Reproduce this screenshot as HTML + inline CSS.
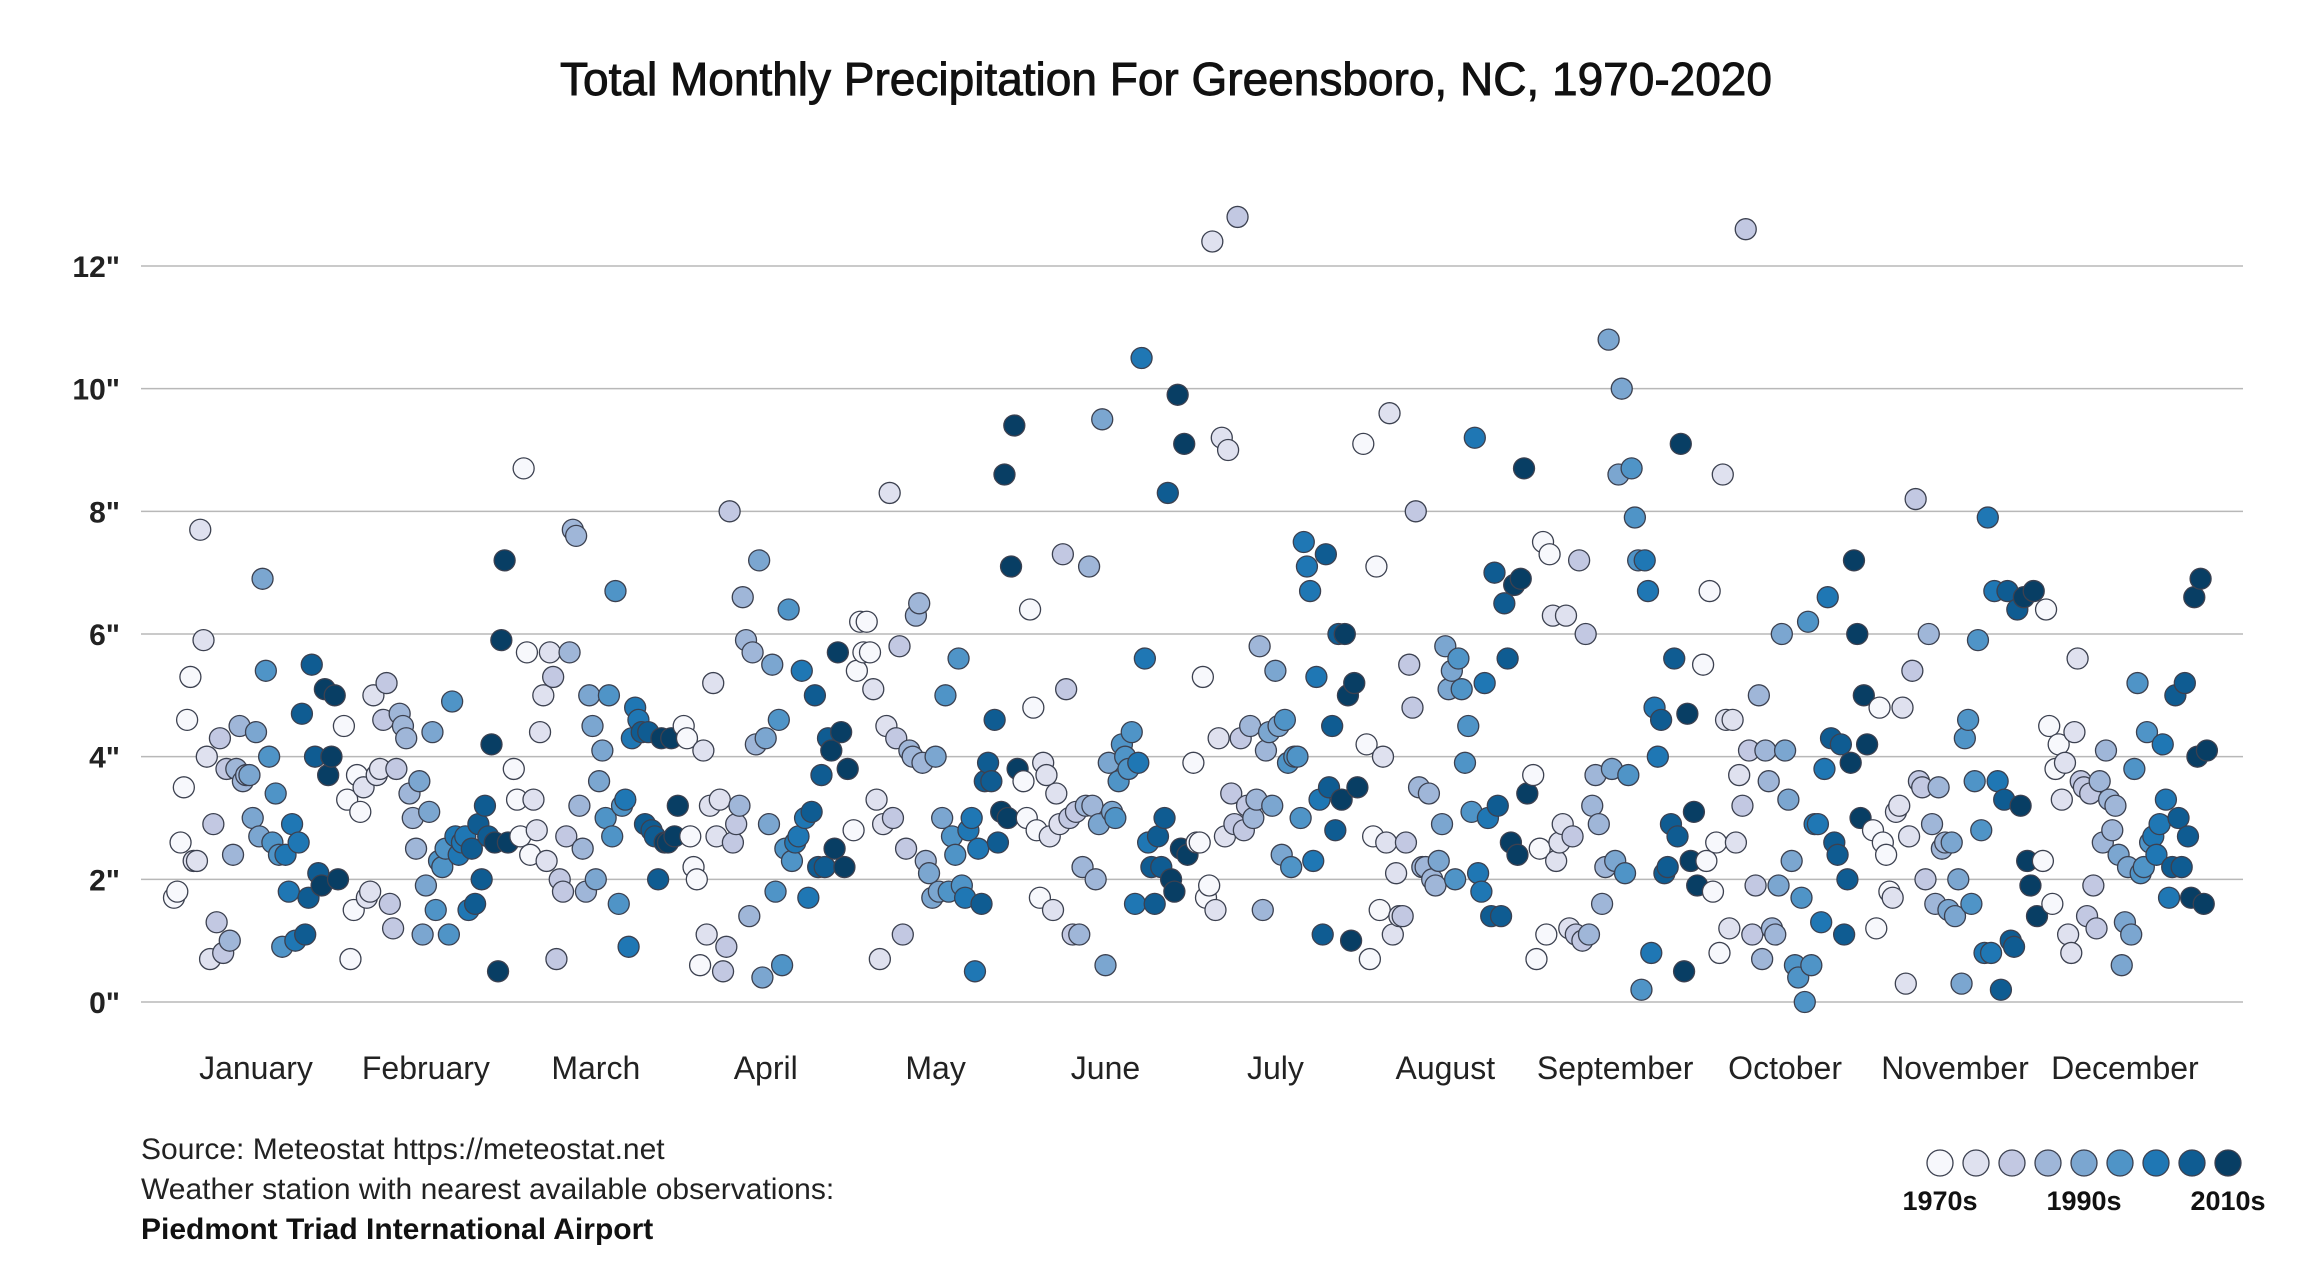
<!DOCTYPE html>
<html><head><meta charset="utf-8">
<style>
html,body{margin:0;padding:0;background:#fff;}
svg{display:block;font-family:"Liberation Sans",sans-serif;}
</style></head>
<body>
<svg id="chart" width="2320" height="1280" viewBox="0 0 2320 1280">
<text x="1166" y="95" text-anchor="middle" font-size="46" fill="#111" stroke="#111" stroke-width="0.9">Total Monthly Precipitation For Greensboro, NC, 1970-2020</text>
<g id="grid"></g>
<g id="points"></g>
<g id="xlabels"></g>
<text x="141" y="1159" font-size="30" fill="#222">Source: Meteostat https://meteostat.net</text>
<text x="141" y="1199" font-size="30" fill="#222">Weather station with nearest available observations:</text>
<text x="141" y="1239" font-size="30" font-weight="bold" fill="#111">Piedmont Triad International Airport</text>
<g id="legend"></g>
</svg>
<script>
const months = ["January","February","March","April","May","June","July","August","September","October","November","December"];
const yTicks = [0,2,4,6,8,10,12];
const decadeLabels = ["1970s","1990s","2010s"];
const jan = [1.7,1.8,2.6,3.5,4.6,5.3,2.3,2.3,7.7,5.9,4.0,0.7,2.9,1.3,4.3,0.8,3.8,1.0,2.4,3.8,4.5,3.6,3.7,3.7,3.0,4.4,2.7,6.9,5.4,4.0,2.6,3.4,2.4,0.9,2.4,1.8,2.9,1.0,2.6,4.7,1.1,1.7,5.5,4.0,2.1,1.9,5.1,3.7,4.0,5.0,2.0];
const feb = [4.5,3.3,0.7,1.5,3.7,3.1,3.5,1.7,1.8,5.0,3.7,3.8,4.6,5.2,1.6,1.2,3.8,4.7,4.5,4.3,3.4,3.0,2.5,3.6,1.1,1.9,3.1,4.4,1.5,2.3,2.2,2.5,1.1,4.9,2.7,2.4,2.6,2.7,1.5,2.5,1.6,2.9,2.0,3.2,2.7,4.2,2.6,0.5,5.9,7.2,2.6];
const mar = [3.8,3.3,2.7,8.7,5.7,2.4,3.3,2.8,4.4,5.0,2.3,5.7,5.3,0.7,2.0,1.8,2.7,5.7,7.7,7.6,3.2,2.5,1.8,5.0,4.5,2.0,3.6,4.1,3.0,5.0,2.7,6.7,1.6,3.2,3.3,0.9,4.3,4.8,4.6,4.4,2.9,4.4,2.8,2.7,2.0,4.3,2.6,2.6,4.3,2.7,3.2];
const apr = [4.5,4.3,2.7,2.2,2.0,0.6,4.1,1.1,3.2,5.2,2.7,3.3,0.5,0.9,8.0,2.6,2.9,3.2,6.6,5.9,1.4,5.7,4.2,7.2,0.4,4.3,2.9,5.5,1.8,4.6,0.6,2.5,6.4,2.3,2.6,2.7,5.4,3.0,1.7,3.1,5.0,2.2,3.7,2.2,4.3,4.1,2.5,5.7,4.4,2.2,3.8];
const may = [2.8,5.4,6.2,5.7,6.2,5.7,5.1,3.3,0.7,2.9,4.5,8.3,3.0,4.3,5.8,1.1,2.5,4.1,4.0,6.3,6.5,3.9,2.3,2.1,1.7,4.0,1.8,3.0,5.0,1.8,2.7,2.4,5.6,1.9,1.7,2.8,3.0,0.5,2.5,1.6,3.6,3.9,3.6,4.6,2.6,3.1,8.6,3.0,7.1,9.4,3.8];
const jun = [3.6,3.0,6.4,4.8,2.8,1.7,3.9,3.7,2.7,1.5,3.4,2.9,7.3,5.1,3.0,1.1,3.1,1.1,2.2,3.2,7.1,3.2,2.0,2.9,9.5,0.6,3.9,3.1,3.0,3.6,4.2,4.0,3.8,4.4,1.6,3.9,10.5,5.6,2.6,2.2,1.6,2.7,2.2,3.0,8.3,2.0,1.8,9.9,2.5,9.1,2.4];
const jul = [3.9,2.6,2.6,5.3,1.7,1.9,12.4,1.5,4.3,9.2,2.7,9.0,3.4,2.9,12.8,4.3,2.8,3.2,4.5,3.0,3.3,5.8,1.5,4.1,4.4,3.2,5.4,4.5,2.4,4.6,3.9,2.2,4.0,4.0,3.0,7.5,7.1,6.7,2.3,5.3,3.3,1.1,7.3,3.5,4.5,2.8,6.0,3.3,6.0,5.0,1.0,5.2,3.5];
const aug = [9.1,4.2,0.7,2.7,7.1,1.5,4.0,2.6,9.6,1.1,2.1,1.4,1.4,2.6,5.5,4.8,8.0,3.5,2.2,2.2,3.4,2.0,1.9,2.3,2.9,5.8,5.1,5.4,2.0,5.6,5.1,3.9,4.5,3.1,9.2,2.1,1.8,5.2,3.0,1.4,7.0,3.2,1.4,6.5,5.6,2.6,6.8,2.4,6.9,8.7,3.4];
const sep = [3.7,0.7,2.5,7.5,1.1,7.3,6.3,2.3,2.6,2.9,6.3,1.2,2.7,1.1,7.2,1.0,6.0,1.1,3.2,3.7,2.9,1.6,2.2,10.8,3.8,2.3,8.6,10.0,2.1,3.7,8.7,7.9,7.2,0.2,7.2,6.7,0.8,4.8,4.0,4.6,2.1,2.2,2.9,5.6,2.7,9.1,0.5,4.7,2.3,3.1,1.9];
const oct = [5.5,2.3,6.7,1.8,2.6,0.8,8.6,4.6,1.2,4.6,2.6,3.7,3.2,12.6,4.1,1.1,1.9,5.0,0.7,4.1,3.6,1.2,1.1,1.9,6.0,4.1,3.3,2.3,0.6,0.4,1.7,0.0,6.2,0.6,2.9,2.9,1.3,3.8,6.6,4.3,2.6,2.4,4.2,1.1,2.0,3.9,7.2,6.0,3.0,5.0,4.2];
const nov = [2.8,1.2,4.8,2.6,2.4,1.8,1.7,3.1,3.2,4.8,0.3,2.7,5.4,8.2,3.6,3.5,2.0,6.0,2.9,1.6,3.5,2.5,2.6,1.5,2.6,1.4,2.0,0.3,4.3,4.6,1.6,3.6,5.9,2.8,0.8,7.9,0.8,6.7,3.6,0.2,3.3,6.7,1.0,0.9,6.4,3.2,6.6,2.3,1.9,6.7,1.4];
const dec = [2.3,6.4,4.5,1.6,3.8,4.2,3.3,3.9,1.1,0.8,4.4,5.6,3.6,3.5,1.4,3.4,1.9,1.2,3.6,2.6,4.1,3.3,2.8,3.2,2.4,0.6,1.3,2.2,1.1,3.8,5.2,2.1,2.2,4.4,2.6,2.7,2.4,2.9,4.2,3.3,1.7,2.2,5.0,3.0,2.2,5.2,2.7,1.7,6.6,4.0,6.9,1.6,4.1];
const series = [jan,feb,mar,apr,may,jun,jul,aug,sep,oct,nov,dec];
const palette = ['#f7f8fc','#dfe1ef','#c2c8e2','#9fb6d8','#7ba6d0','#4f94c7','#1f77b4','#0f5c92','#083e64'];

const NS='http://www.w3.org/2000/svg';
const X0=141, X1=2243, Y0=1002, Y12=266;
const y = v => Y0 + (Y12-Y0)*v/12;
const mc = i => 256 + i*169.9;
function mk(tag, attrs, parent){const e=document.createElementNS(NS,tag);for(const k in attrs)e.setAttribute(k,attrs[k]);parent.appendChild(e);return e;}
const grid=document.getElementById('grid');
yTicks.forEach(t=>{
  const l=mk('line',{x1:X0,x2:X1,y1:y(t),y2:y(t),stroke:'#b8b8b8','stroke-width':1.5},grid);
  
  
  const tx=mk('text',{x:120,y:y(t)+11,'text-anchor':'end','font-size':30,'font-weight':'bold',fill:'#222'},grid);
  tx.textContent=t+'"';
  
  
});
const xl=document.getElementById('xlabels');
months.forEach((m,i)=>{
  const t=mk('text',{x:mc(i),y:1079,'text-anchor':'middle','font-size':32,fill:'#222'},xl);
  t.textContent=m;
  
  
});
const pts=document.getElementById('points');
series.forEach((arr,i)=>{
  const n=arr.length;
  arr.forEach((v,j)=>{
    const f=j/(n-1);
    const x=mc(i)-82+f*164;
    const c=palette[Math.min(8,Math.floor(f*9))];
    const p=mk('circle',{cx:x,cy:y(v),r:10.5,fill:c,stroke:'#3c4150','stroke-width':1.3},pts);
    
    
  });
});
const lg=document.getElementById('legend');
palette.forEach((c,k)=>{
  const p=mk('circle',{cx:1940+k*36,cy:1163,r:13,fill:c,stroke:'#3c4150','stroke-width':1.3},lg);
  
  
});
[1940,2084,2228].forEach((x,k)=>{
  const t=mk('text',{x:x,y:1210,'text-anchor':'middle','font-size':27,'font-weight':'bold',fill:'#111'},lg);
  t.textContent=decadeLabels[k];
  
  
});
</script>
</body></html>
